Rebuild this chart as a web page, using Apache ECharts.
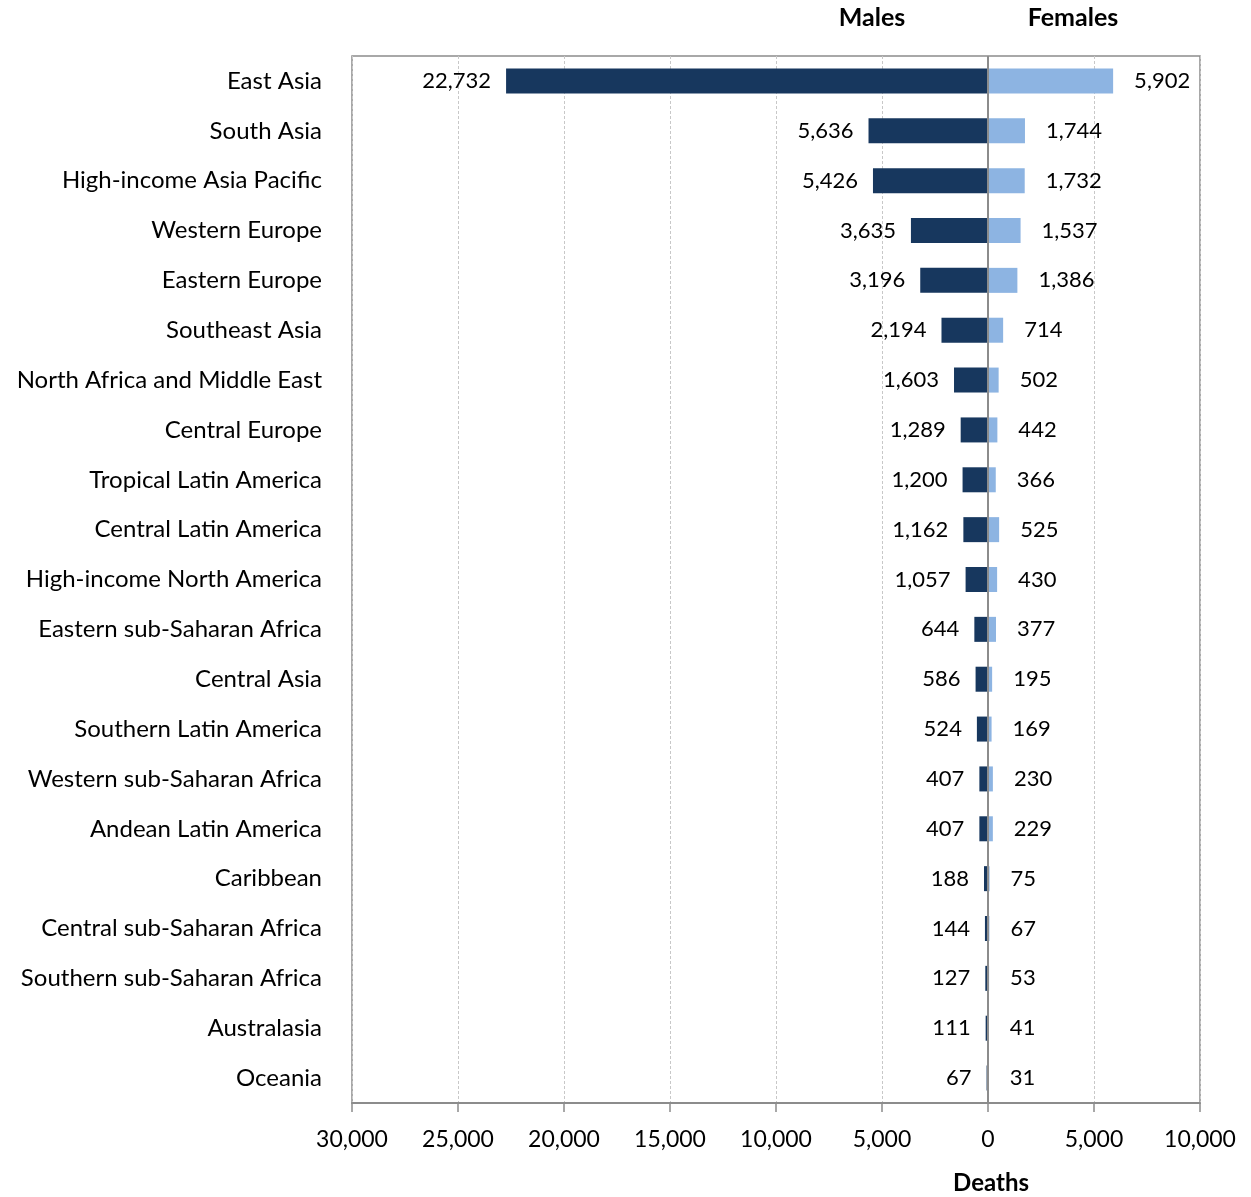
<!DOCTYPE html>
<html><head><meta charset="utf-8">
<script src="https://cdn.jsdelivr.net/npm/echarts@6/dist/echarts.min.js"></script>
<style>html,body{margin:0;padding:0;background:#fff}#c{width:1251px;height:1197px}</style>
</head><body><div id="c"></div>
<script>
const categories = ["East Asia","South Asia","High-income Asia Pacific","Western Europe","Eastern Europe","Southeast Asia","North Africa and Middle East","Central Europe","Tropical Latin America","Central Latin America","High-income North America","Eastern sub-Saharan Africa","Central Asia","Southern Latin America","Western sub-Saharan Africa","Andean Latin America","Caribbean","Central sub-Saharan Africa","Southern sub-Saharan Africa","Australasia","Oceania"];
const males = [22732,5636,5426,3635,3196,2194,1603,1289,1200,1162,1057,644,586,524,407,407,188,144,127,111,67];
const females = [5902,1744,1732,1537,1386,714,502,442,366,525,430,377,195,169,230,229,75,67,53,41,31];
const FONT = 'Lato';
const fmt = v => Math.abs(v).toLocaleString('en-US');
const chart = echarts.init(document.getElementById('c'));
chart.setOption({
  animation:false,
  textStyle:{fontFamily:FONT},
  grid:{left:352,right:51,top:56,bottom:94,show:true,borderColor:'#8c8c8c',borderWidth:1.5,containLabel:false},
  xAxis:{type:'value',min:-30000,max:10000,interval:5000,
    axisLine:{show:true,lineStyle:{color:'#8c8c8c',width:2}},
    axisTick:{show:true,length:9,lineStyle:{color:'#8c8c8c',width:1.5}},
    axisLabel:{formatter:v=>fmt(v),fontSize:23,color:'#000',margin:25,fontFamily:FONT},
    splitLine:{show:true,lineStyle:{color:'#c8c8c8',type:[3,2],width:1}}
  },
  yAxis:{type:'category',data:categories,inverse:true,
    axisLine:{show:false,onZero:false},axisTick:{show:false},
    axisLabel:{fontSize:24,color:'#000',margin:30,fontFamily:FONT},
    splitLine:{show:false}
  },
  series:[
    {name:'Males',type:'bar',stack:'a',barWidth:25,data:males.map(v=>-v),
      itemStyle:{color:'#17375E'},
      label:{show:true,position:'left',distance:15,formatter:p=>fmt(p.value),fontSize:22,color:'#000',fontFamily:FONT},
      markLine:{silent:true,symbol:'none',label:{show:false},lineStyle:{color:'#8c8c8c',type:'solid',width:2},data:[{xAxis:0}]}
    },
    {name:'Females',type:'bar',stack:'a',barWidth:25,data:females,
      itemStyle:{color:'#8DB4E2'},
      label:{show:true,position:'right',distance:21,formatter:p=>fmt(p.value),fontSize:22,color:'#000',fontFamily:FONT}
    }
  ],
  graphic:[
    {type:'text',x:872,y:18,style:{text:'Males',font:'bold 25px '+FONT,fill:'#000',align:'center',verticalAlign:'middle'}},
    {type:'text',x:1073,y:18,style:{text:'Females',font:'bold 25px '+FONT,fill:'#000',align:'center',verticalAlign:'middle'}},
    {type:'text',x:991,y:1183,style:{text:'Deaths',font:'bold 24px '+FONT,fill:'#000',align:'center',verticalAlign:'middle'}}
  ]
});
</script></body></html>
